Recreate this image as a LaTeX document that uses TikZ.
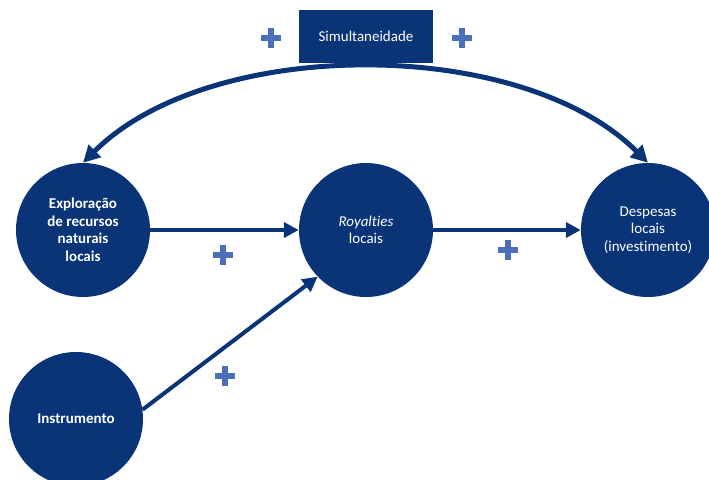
\documentclass[tikz,border=0pt]{standalone}
\usepackage{fontspec}
\setmainfont[Ligatures={NoCommon}]{Carlito}
\usetikzlibrary{arrows.meta}
\definecolor{navy}{HTML}{0A3478}
\definecolor{plusblue}{HTML}{4B6FBA}
\tikzset{
  circ/.style={circle, fill=navy, minimum size=134pt, inner sep=0pt, text=white, align=center,
    font=\fontsize{15}{17.5}\selectfont},
  flow/.style={draw=navy, line width=4pt, -{Triangle[length=15pt,width=15pt]}},
  archarrow/.style={draw=navy, line width=5pt, {Triangle[length=17pt,width=17pt]}-{Triangle[length=17pt,width=17pt]}},
  plussign/.pic={\fill[plusblue] (-10pt,-3pt) rectangle (10pt,3pt); \fill[plusblue] (-3pt,-10pt) rectangle (3pt,10pt);}
}
\begin{document}
\begin{tikzpicture}[x=1pt,y=1pt]
\useasboundingbox (0,0) rectangle (709,-479);
\clip (0,0) rectangle (709,-479);
\node[circ] (L) at (83,-230) {\bfseries Exploração\\\bfseries de recursos\\\bfseries naturais\\\bfseries locais};
\node[circ] (M) at (366,-230) {\itshape Royalties\\locais};
\node[circ] (R) at (648,-230) {Despesas\\locais\\(investimento)};
\node[circ] (I) at (76,-419) {\bfseries Instrumento};
\node[fill=navy, text=white, minimum width=134pt, minimum height=53pt, inner sep=0pt,
  font=\fontsize{15}{17.5}\selectfont] (S) at (366,-36.5) {Simultaneidade};
\draw[flow] (L.east) -- (M.west);
\draw[flow] (M.east) -- (R.west);
\draw[flow] (I.8) -- (M.224);
\draw[archarrow] (L.north) .. controls (210,-36) and (521,-36) .. (R.north);
\pic at (271,-38) {plussign};
\pic at (462,-38) {plussign};
\pic at (223,-255) {plussign};
\pic at (508,-250) {plussign};
\pic at (225,-376) {plussign};
\end{tikzpicture}
\end{document}
